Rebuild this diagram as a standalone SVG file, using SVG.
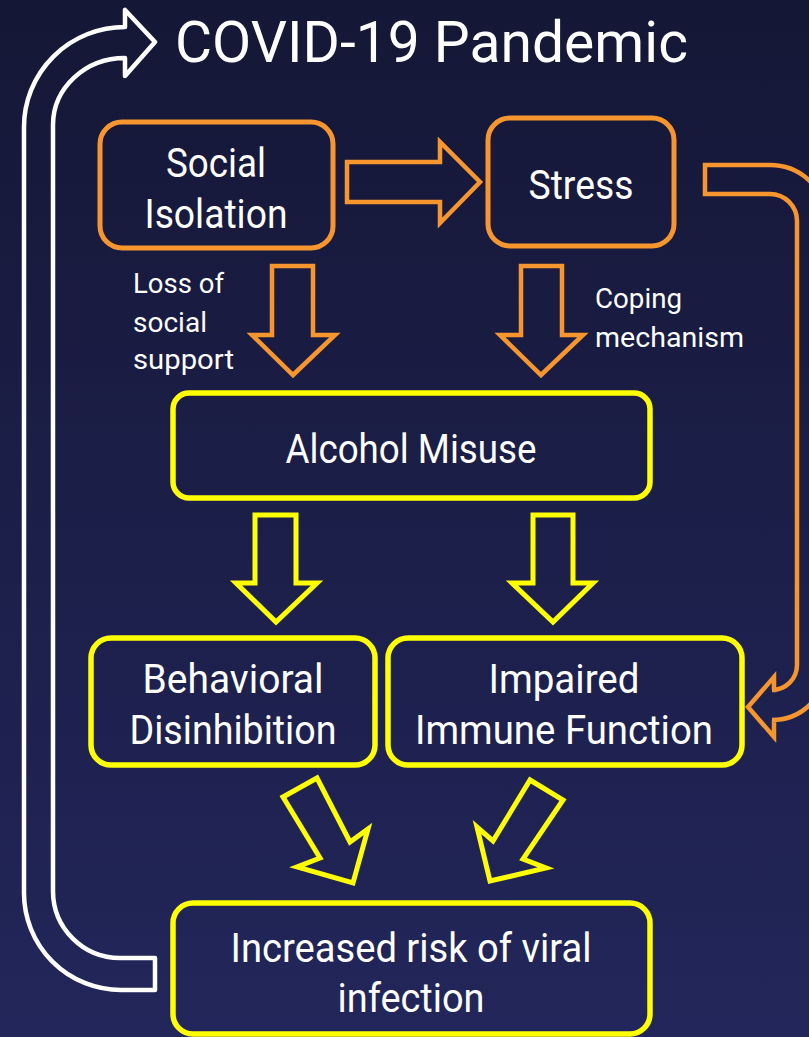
<svg xmlns="http://www.w3.org/2000/svg" width="809" height="1037" viewBox="0 0 809 1037">
<defs>
<linearGradient id="bg" x1="0" y1="0" x2="0" y2="1">
<stop offset="0" stop-color="#151736"/>
<stop offset="1" stop-color="#22265a"/>
</linearGradient>
<style>
.t{font-family:Roboto,"Liberation Sans",sans-serif;fill:#ffffff;}
.big{font-size:40px;text-anchor:middle;}
.lab{font-size:28px;}
.ob{fill:none;stroke:#f7962f;stroke-width:5;}
.yb{fill:none;stroke:#ffff00;stroke-width:5.5;}
.oa{fill:none;stroke:#f7962f;stroke-width:4.5;stroke-linejoin:miter;}
.ya{fill:none;stroke:#ffff00;stroke-width:5;stroke-linejoin:miter;}
.wa{fill:none;stroke:#ffffff;stroke-width:4.5;stroke-linejoin:round;}
</style>
</defs>
<rect x="0" y="0" width="809" height="1037" fill="url(#bg)"/>

<g id="title">
<text class="t" x="175" y="62" font-size="58" textLength="513" lengthAdjust="spacingAndGlyphs">COVID-19 Pandemic</text>
</g>

<g id="connectors">
<path class="wa" d="M155,958 L120,958 A67,67 0 0 1 53,891 L53,125 A72,67 0 0 1 125,58 L125,76 L155,42 L125,10 L125,27 A101,100 0 0 0 24,127 L24,893 A97,97 0 0 0 121,990 L155,990 Z"/>
<path class="oa" d="M347,162 L440,162 L440,142 L480,182 L440,223 L440,202 L347,202 Z"/>
<path class="oa" d="M705,194 L770,194 A27,27 0 0 1 797,221 L797,665 A25,25 0 0 1 772,690 L774,690 L774,677 L748,707 L774,737 L774,720 L772,720 A55,55 0 0 0 827,665 L827,221 A57,56 0 0 0 770,165 L705,165 Z"/>
<path class="oa" d="M272,266 L313,266 L313,335 L335,335 L293,375 L252,335 L272,335 Z"/>
<path class="oa" d="M521,266 L562,266 L562,335 L583,335 L541,375 L500,335 L521,335 Z"/>
<path class="ya" d="M255,515 L296,515 L296,583 L317,583 L276,622 L236,583 L255,583 Z"/>
<path class="ya" d="M533,515 L573,515 L573,583 L593,583 L553,622 L512,583 L533,583 Z"/>
<path class="ya" d="M283,797 L317,778 L350,842 L368,829 L353,883 L297,867 L320,858 Z"/>
<path class="ya" d="M530,780 L563,800 L523,859 L546,868 L490,881 L477,827 L493,841 Z"/>
</g>

<g id="social-isolation">
<rect class="ob" x="100" y="122" width="233" height="126" rx="22"/>
<text class="t big" x="216" y="177" textLength="100" lengthAdjust="spacingAndGlyphs">Social</text>
<text class="t big" x="216" y="228" textLength="143" lengthAdjust="spacingAndGlyphs">Isolation</text>
</g>

<g id="stress">
<rect class="ob" x="488" y="118" width="186" height="128" rx="22"/>
<text class="t big" x="581" y="199" textLength="105" lengthAdjust="spacingAndGlyphs">Stress</text>
</g>

<g id="label-loss">
<text class="t lab" x="133" y="293" textLength="91" lengthAdjust="spacingAndGlyphs">Loss of</text>
<text class="t lab" x="133" y="332" textLength="74" lengthAdjust="spacingAndGlyphs">social</text>
<text class="t lab" x="133" y="369" textLength="101" lengthAdjust="spacingAndGlyphs">support</text>
</g>

<g id="label-coping">
<text class="t lab" x="595" y="308" textLength="87" lengthAdjust="spacingAndGlyphs">Coping</text>
<text class="t lab" x="595" y="347" textLength="149" lengthAdjust="spacingAndGlyphs">mechanism</text>
</g>

<g id="alcohol-misuse">
<rect class="yb" x="173" y="393" width="477" height="105" rx="16"/>
<text class="t big" x="411" y="463" textLength="251" lengthAdjust="spacingAndGlyphs">Alcohol Misuse</text>
</g>

<g id="behavioral-disinhibition">
<rect class="yb" x="91" y="638" width="284" height="127" rx="20"/>
<text class="t big" x="233" y="693" textLength="181" lengthAdjust="spacingAndGlyphs">Behavioral</text>
<text class="t big" x="233" y="744" textLength="207" lengthAdjust="spacingAndGlyphs">Disinhibition</text>
</g>

<g id="impaired-immune-function">
<rect class="yb" x="388" y="638" width="354" height="127" rx="20"/>
<text class="t big" x="564" y="693" textLength="151" lengthAdjust="spacingAndGlyphs">Impaired</text>
<text class="t big" x="564" y="744" textLength="298" lengthAdjust="spacingAndGlyphs">Immune Function</text>
</g>

<g id="increased-risk">
<rect class="yb" x="173" y="903" width="477" height="131" rx="20"/>
<text class="t big" x="411" y="962" textLength="361" lengthAdjust="spacingAndGlyphs">Increased risk of viral</text>
<text class="t big" x="411" y="1012" textLength="147" lengthAdjust="spacingAndGlyphs">infection</text>
</g>
</svg>
